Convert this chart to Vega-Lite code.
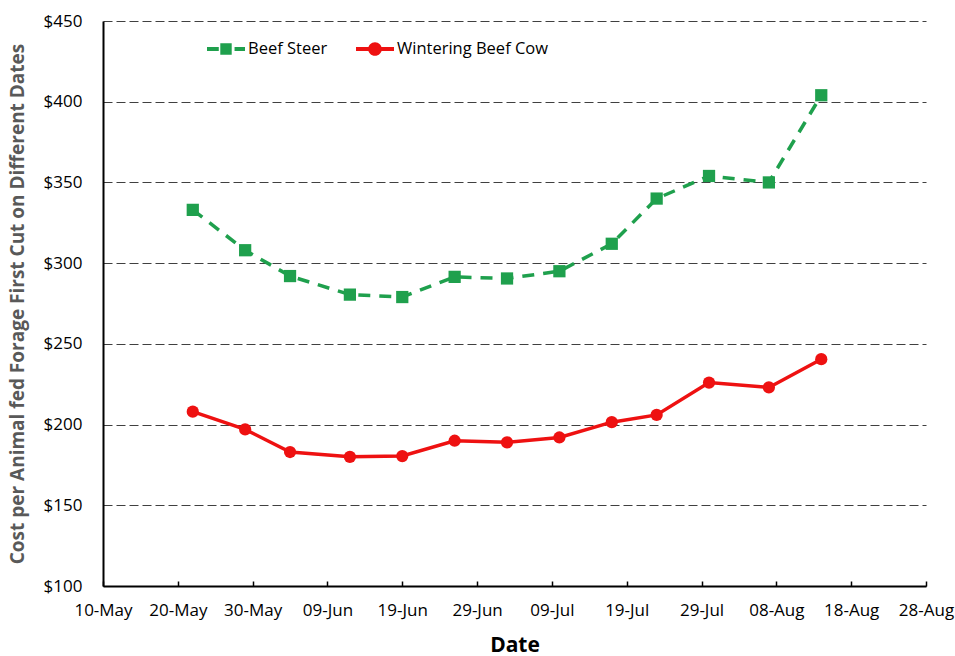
{
  "$schema": "https://vega.github.io/schema/vega-lite/v6.json",
  "width": 823,
  "height": 565,
  "autosize": {"type": "none"},
  "padding": {"left": 103, "top": 21, "right": 29, "bottom": 70},
  "background": "white",
  "config": {
    "view": {"stroke": null},
    "font": "Open Sans",
    "axis": {
      "labelFont": "Open Sans",
      "titleFont": "Open Sans",
      "labelColor": "#000000",
      "domainColor": "#000000",
      "domainWidth": 2,
      "tickColor": "#000000",
      "tickWidth": 1.5
    },
    "legend": {
      "title": null,
      "orient": "none",
      "labelFontSize": 16.5,
      "labelColor": "#000000",
      "labelOffset": 3,
      "symbolSize": 1444,
      "symbolStrokeWidth": 0,
      "symbolOpacity": 1
    }
  },
  "data": {
    "values": [
      {"date": "2023-05-22", "series": "Beef Steer", "cost": 333},
      {"date": "2023-05-29", "series": "Beef Steer", "cost": 308},
      {"date": "2023-06-04", "series": "Beef Steer", "cost": 292},
      {"date": "2023-06-12", "series": "Beef Steer", "cost": 280.5},
      {"date": "2023-06-19", "series": "Beef Steer", "cost": 279},
      {"date": "2023-06-26", "series": "Beef Steer", "cost": 291.5},
      {"date": "2023-07-03", "series": "Beef Steer", "cost": 290.5},
      {"date": "2023-07-10", "series": "Beef Steer", "cost": 295},
      {"date": "2023-07-17", "series": "Beef Steer", "cost": 312},
      {"date": "2023-07-23", "series": "Beef Steer", "cost": 340},
      {"date": "2023-07-30", "series": "Beef Steer", "cost": 354},
      {"date": "2023-08-07", "series": "Beef Steer", "cost": 350},
      {"date": "2023-08-14", "series": "Beef Steer", "cost": 404},
      {"date": "2023-05-22", "series": "Wintering Beef Cow", "cost": 208},
      {"date": "2023-05-29", "series": "Wintering Beef Cow", "cost": 197},
      {"date": "2023-06-04", "series": "Wintering Beef Cow", "cost": 183},
      {"date": "2023-06-12", "series": "Wintering Beef Cow", "cost": 180},
      {"date": "2023-06-19", "series": "Wintering Beef Cow", "cost": 180.5},
      {"date": "2023-06-26", "series": "Wintering Beef Cow", "cost": 190},
      {"date": "2023-07-03", "series": "Wintering Beef Cow", "cost": 189},
      {"date": "2023-07-10", "series": "Wintering Beef Cow", "cost": 192},
      {"date": "2023-07-17", "series": "Wintering Beef Cow", "cost": 201.5},
      {"date": "2023-07-23", "series": "Wintering Beef Cow", "cost": 206},
      {"date": "2023-07-30", "series": "Wintering Beef Cow", "cost": 226},
      {"date": "2023-08-07", "series": "Wintering Beef Cow", "cost": 223},
      {"date": "2023-08-14", "series": "Wintering Beef Cow", "cost": 240.5}
    ]
  },
  "encoding": {
    "x": {
      "field": "date",
      "type": "temporal",
      "scale": {"domain": ["2023-05-10", "2023-08-28"], "type": "utc"},
      "axis": {
        "title": "Date",
        "titleFontSize": 21,
        "titleFontWeight": "bold",
        "titleColor": "#000000",
        "titlePadding": 16,
        "labelExpr": "utcFormat(datum.value, '%d-%b')",
        "values": [
          "2023-05-10", "2023-05-20", "2023-05-30", "2023-06-09",
          "2023-06-19", "2023-06-29", "2023-07-09", "2023-07-19",
          "2023-07-29", "2023-08-08", "2023-08-18", "2023-08-28"
        ],
        "labelFontSize": 17,
        "labelPadding": 21,
        "labelFlush": false,
        "tickSize": -5,
        "grid": false,
        "labelOverlap": false
      }
    },
    "y": {
      "field": "cost",
      "type": "quantitative",
      "scale": {"domain": [100, 450], "nice": false},
      "axis": {
        "title": "Cost per Animal fed Forage First Cut on Different Dates",
        "titleFontSize": 19,
        "titleFontWeight": "bold",
        "titleColor": "#595959",
        "titlePadding": 16,
        "format": "$.0f",
        "values": [100, 150, 200, 250, 300, 350, 400, 450],
        "labelFontSize": 17,
        "labelPadding": 21,
        "tickSize": 0,
        "grid": true,
        "gridColor": "#404040",
        "gridDash": [9, 4],
        "gridWidth": 1.2
      }
    }
  },
  "layer": [
    {
      "transform": [{"filter": "datum.series == 'Beef Steer'"}],
      "mark": {
        "type": "line",
        "strokeWidth": 3.5,
        "strokeDash": [12, 9],
        "point": {"shape": "square", "size": 150, "filled": true, "opacity": 1}
      },
      "encoding": {
        "color": {
          "field": "series",
          "type": "nominal",
          "scale": {"domain": ["Beef Steer"], "range": ["#1fa04d"]},
          "legend": {
            "legendX": 104,
            "legendY": 9,
            "symbolType": "M-1,-0.1H-0.38V0.1H-1ZM-0.3,-0.3H0.3V0.3H-0.3ZM0.45,-0.1H1V0.1H0.45Z",
            "symbolFillColor": "#1fa04d"
          }
        }
      }
    },
    {
      "transform": [{"filter": "datum.series == 'Wintering Beef Cow'"}],
      "mark": {
        "type": "line",
        "strokeWidth": 3.5,
        "point": {"shape": "circle", "size": 150, "filled": true, "opacity": 1}
      },
      "encoding": {
        "color": {
          "field": "series",
          "type": "nominal",
          "scale": {"domain": ["Wintering Beef Cow"], "range": ["#ee1111"]},
          "legend": {
            "legendX": 253,
            "legendY": 9,
            "symbolType": "M-1,-0.1H1V0.1H-1ZM-0.36,0A0.36,0.36 0 1,1 0.36,0A0.36,0.36 0 1,1 -0.36,0Z",
            "symbolFillColor": "#ee1111"
          }
        }
      }
    }
  ],
  "resolve": {"scale": {"color": "independent"}, "legend": {"color": "independent"}}
}
